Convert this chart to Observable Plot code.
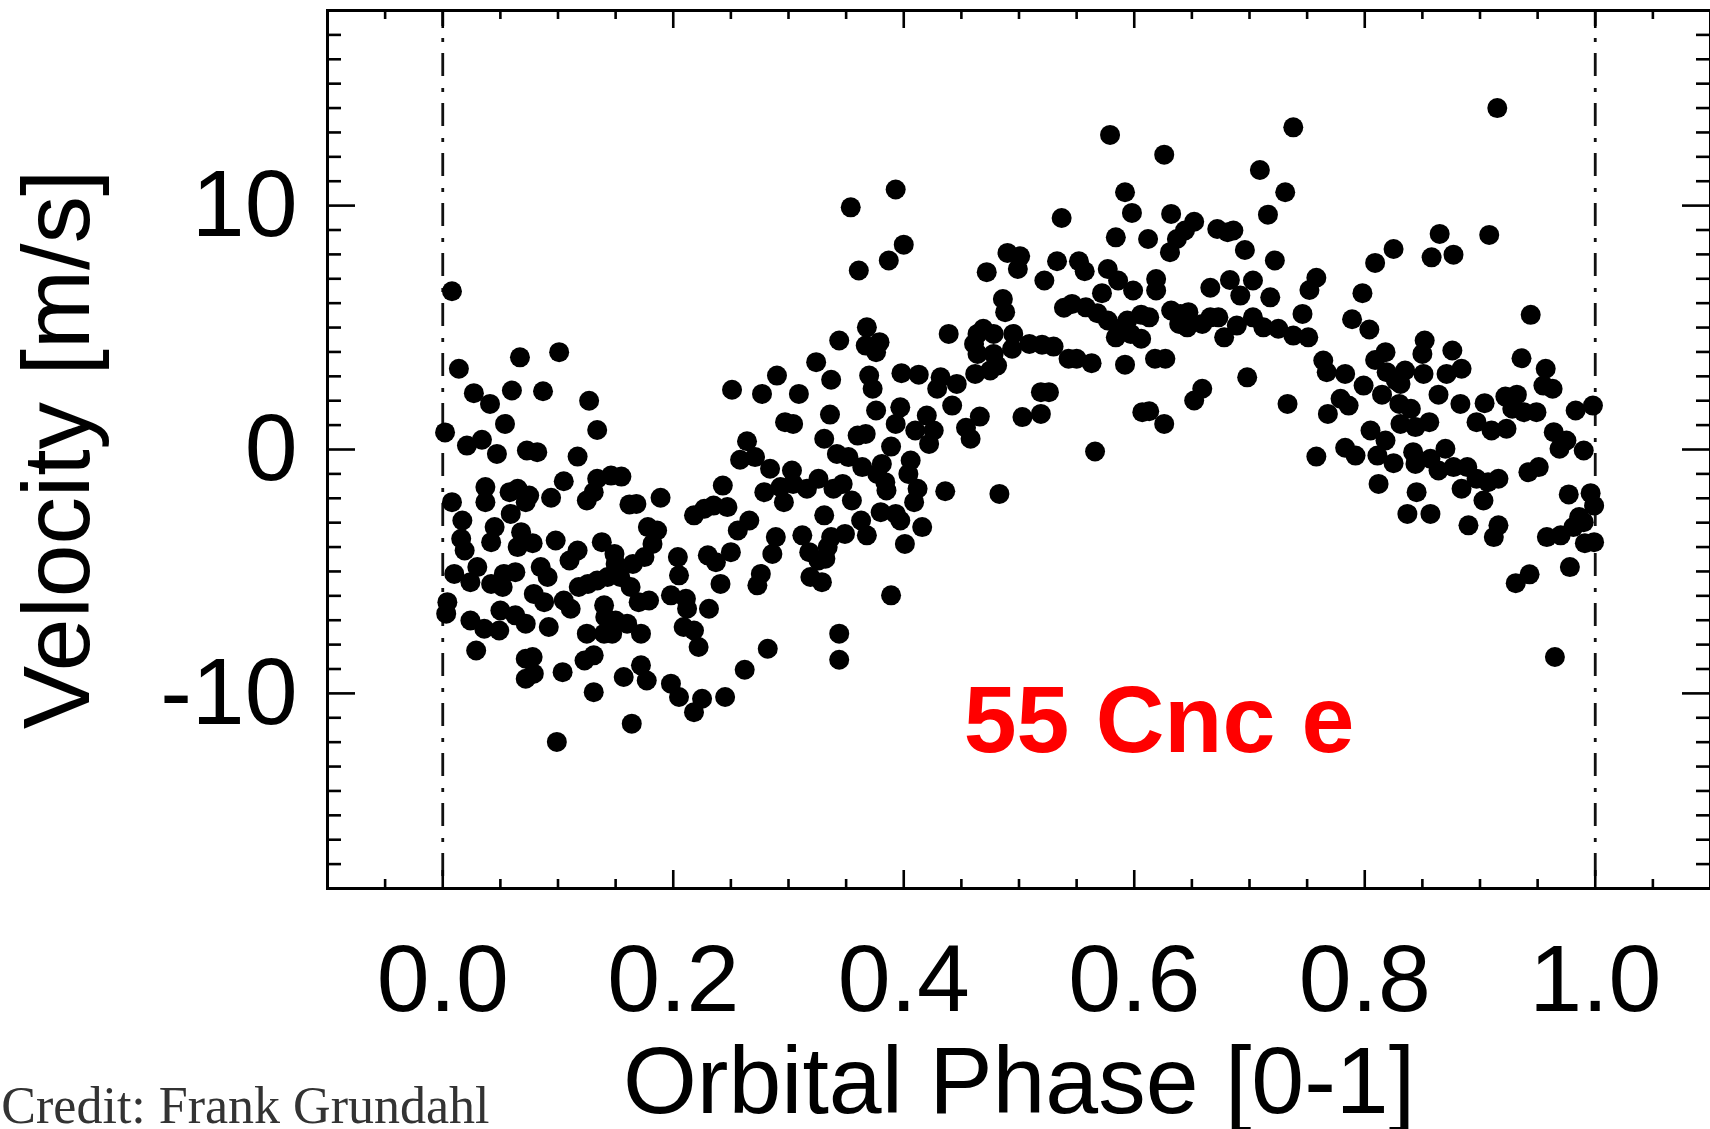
<!DOCTYPE html>
<html>
<head>
<meta charset="utf-8">
<script src="https://cdn.jsdelivr.net/npm/d3@7"></script>
<script src="https://cdn.jsdelivr.net/npm/@observablehq/plot@0.6"></script>
<style>
html,body{margin:0;padding:0;background:#fff;}
#chart svg{display:block;}
</style>
</head>
<body>
<div id="chart"></div>
<script>
// ---- Data: orbital phase [0-1] and radial velocity [m/s] ----
// phase 0.00 - 0.25
const phaseA = [
0.008,0.014,0.067,0.101,0.027,0.041,0.060,0.087,0.127,0.002,
0.054,0.134,0.021,0.034,0.047,0.073,0.082,0.117,0.105,0.134,
0.146,0.155,0.037,0.058,0.065,0.075,0.094,0.125,0.131,0.162,
0.168,0.189,0.008,0.037,0.059,0.072,0.017,0.045,0.068,0.042,
0.065,0.078,0.016,0.019,0.098,0.117,0.110,0.138,0.149,0.150,
0.178,0.186,0.182,0.175,0.165,0.204,0.205,0.230,0.237,0.241,
0.243,0.218,0.227,0.235,0.247,0.250,0.010,0.024,0.030,0.042,
0.053,0.063,0.085,0.091,0.079,0.088,0.105,0.111,0.118,0.126,
0.134,0.143,0.154,0.163,0.170,0.179,0.140,0.141,0.150,0.160,
0.172,0.125,0.140,0.147,0.004,0.003,0.024,0.036,0.049,0.050,
0.052,0.063,0.072,0.092,0.198,0.211,0.212,0.231,0.209,0.218,
0.222,0.029,0.072,0.078,0.072,0.079,0.104,0.123,0.131,0.157,
0.172,0.177,0.198,0.205,0.218,0.225,0.245,0.131,0.164,0.099];
const velocityA = [
6.49,3.31,3.78,3.99,2.31,1.87,2.42,2.39,2.00,0.70,
1.05,0.80,0.16,0.40,-0.18,-0.04,-0.11,-0.29,-1.30,-1.20,
-1.07,-1.11,-1.54,-1.75,-1.61,-1.89,-1.98,-2.09,-1.75,-2.25,
-2.23,-1.98,-2.16,-2.16,-2.64,-2.16,-2.91,-3.18,-3.39,-3.80,
-4.00,-3.84,-3.66,-4.14,-3.73,-4.14,-4.55,-3.80,-4.28,-4.69,
-3.18,-3.32,-3.87,-4.41,-4.69,-4.41,-5.16,-4.34,-4.62,-5.51,
-1.48,-2.70,-2.43,-2.30,-2.36,-4.21,-5.10,-5.44,-4.82,-5.51,
-5.10,-5.03,-4.82,-5.23,-5.92,-6.26,-6.19,-6.53,-5.64,-5.51,
-5.37,-5.23,-5.23,-5.64,-6.26,-6.19,-6.39,-6.87,-7.01,-7.14,
-7.55,-7.55,-7.55,-7.55,-6.26,-6.73,-7.01,-7.35,-7.42,-6.60,
-5.64,-6.80,-7.14,-7.28,-5.98,-6.12,-6.53,-6.53,-7.28,-7.42,
-8.10,-8.24,-8.58,-8.51,-9.40,-9.19,-9.13,-8.65,-8.44,-9.33,
-8.85,-9.47,-9.60,-10.15,-10.77,-10.22,-10.15,-9.95,-11.24,-11.99];

// phase 0.25 - 0.51
const phaseB = [
0.393,0.354,0.400,0.387,0.361,0.490,0.501,0.499,0.472,0.486,
0.488,0.368,0.344,0.367,0.379,0.376,0.439,0.464,0.469,0.478,
0.461,0.464,0.478,0.495,0.494,0.509,0.481,0.475,0.462,0.324,
0.290,0.337,0.370,0.373,0.398,0.413,0.432,0.429,0.446,0.251,
0.277,0.309,0.336,0.376,0.397,0.420,0.442,0.466,0.503,0.297,
0.304,0.393,0.454,0.410,0.426,
0.264,0.331,0.360,0.367,0.389,0.422,0.458,0.258,0.271,0.284,
0.342,0.352,0.364,0.381,0.406,0.404,0.303,0.279,0.293,0.304,
0.316,0.326,0.339,0.347,0.296,0.355,0.377,0.384,0.385,0.412,
0.409,0.436,0.483,0.266,0.256,0.331,0.380,0.393,0.397,0.416,
0.363,0.349,0.368,0.401,0.289,0.286,0.312,0.318,0.334,0.337,
0.332,0.326,0.276,0.273,0.319,0.329,0.389,0.344,0.344,0.282,
0.262];
const velocityB = [
10.66,9.93,8.40,7.75,7.34,8.06,7.92,7.40,7.27,6.17,
5.63,5.01,4.47,4.26,4.40,3.99,4.74,4.74,4.95,4.74,
4.33,3.92,3.92,4.74,4.13,4.33,3.44,3.24,3.10,3.58,
3.03,2.86,3.03,2.49,3.13,3.07,2.96,2.49,2.69,2.45,
2.28,2.28,1.43,1.60,1.73,1.39,1.80,1.35,1.33,1.12,
1.05,1.05,0.89,0.78,0.78,
0.34,0.44,0.57,0.64,0.12,0.23,0.44,-0.42,-0.31,-0.79,
-0.18,-0.31,-0.72,-0.59,-0.45,-1.00,-0.86,-1.75,-1.54,-1.41,
-1.61,-1.20,-1.61,-1.41,-2.16,-2.09,-1.00,-1.34,-1.68,-1.61,
-2.16,-1.71,-1.82,-2.91,-3.32,-2.70,-2.57,-2.64,-2.91,-3.18,
-2.91,-3.46,-3.52,-3.87,-3.59,-4.28,-3.52,-4.21,-4.00,-3.59,
-4.48,-4.55,-5.10,-5.57,-5.23,-5.44,-5.98,-7.55,-8.62,-8.17,
-9.03];

// phase 0.51 - 0.77
const phaseC = [
0.579,0.626,0.738,0.709,0.731,0.592,0.598,0.537,0.632,0.652,
0.644,0.637,0.631,0.584,0.612,0.672,0.681,0.686,0.716,0.696,
0.722,0.533,0.552,0.557,0.522,0.577,0.586,0.619,0.619,0.572,
0.599,0.666,0.683,0.692,0.703,0.718,0.758,0.752,0.746,0.539,
0.546,0.558,0.568,0.577,0.587,0.594,0.584,0.597,0.606,0.606,
0.613,0.632,0.640,0.647,0.639,0.646,0.659,0.666,0.673,0.678,
0.689,0.703,0.712,0.725,0.738,0.751,0.520,0.530,0.543,0.550,
0.563,0.592,0.618,0.627,0.764,0.767,0.698,0.519,0.526,0.519,
0.659,0.652,0.733,0.607,0.613,0.626,0.768,0.566,0.758];
const velocityC = [
12.90,12.09,13.21,11.46,10.55,10.55,9.70,9.49,9.66,9.34,
8.98,8.63,8.09,8.70,8.63,9.04,8.91,8.98,9.63,8.18,
7.75,7.72,7.72,7.31,6.93,7.40,6.93,6.99,6.52,6.41,
6.52,6.63,6.95,6.31,6.93,6.24,7.04,6.54,5.56,5.81,
5.97,5.83,5.59,5.29,4.95,5.29,4.60,4.74,4.54,5.53,
5.42,5.70,5.56,5.63,5.15,5.01,5.15,5.42,5.42,4.60,
5.08,5.42,5.01,4.95,4.67,4.60,4.30,4.22,3.72,3.72,
3.54,3.48,3.72,3.72,3.65,3.17,2.96,2.35,2.35,1.46,
2.49,2.01,1.87,1.53,1.57,1.05,1.46,-0.08,-0.29];

// phase 0.77 - 1.00
const phaseD = [
0.915,0.865,0.908,0.825,0.809,0.858,0.877,0.798,0.789,0.804,
0.944,0.852,0.850,0.818,0.809,0.876,0.884,0.936,0.957,0.955,
0.963,0.783,0.799,0.819,0.827,0.835,0.851,0.871,0.831,0.815,
0.864,0.779,0.786,0.830,0.840,0.883,0.904,0.922,0.932,0.928,
0.938,0.949,0.983,0.998,0.831,0.856,0.897,0.805,0.910,0.923,
0.964,0.818,0.844,0.975,0.969,0.990,0.783,0.792,0.811,0.842,
0.844,0.825,0.857,0.870,0.864,0.877,0.889,0.897,0.916,0.907,
0.884,0.903,0.942,0.951,0.812,0.845,0.837,0.857,0.890,0.916,
0.912,0.958,0.970,0.977,0.996,0.999,0.986,0.990,0.981,0.991,
0.999,0.978,0.931,0.943,0.965];
const velocityD = [
14.00,8.84,8.80,8.22,7.65,7.88,7.99,6.41,5.34,4.92,
5.52,4.47,3.92,3.99,3.67,4.06,3.31,3.74,3.31,2.62,
2.49,3.10,2.62,3.17,2.83,3.24,3.10,3.10,2.69,2.25,
2.25,2.08,1.80,1.87,1.67,1.87,1.90,2.17,2.25,1.67,
1.53,1.53,1.60,1.80,1.05,1.12,1.12,0.78,0.78,0.85,
0.71,0.37,0.92,0.37,0.03,-0.04,0.07,-0.25,-0.25,-0.11,
-0.59,-0.56,-0.38,0.03,-0.86,-0.72,-0.72,-1.20,-1.20,-1.34,
-1.61,-2.09,-0.93,-0.72,-1.41,-1.75,-2.64,-2.64,-3.11,-3.11,
-3.59,-3.59,-3.52,-1.84,-1.79,-2.30,-2.77,-2.98,-3.18,-3.84,
-3.80,-4.82,-5.48,-5.12,-8.51];

// ---- Axes, ticks, labels ----
const xDomain = [-0.1, 1.1];
const yDomain = [-18, 18];
const xTickLabels = [0.0, 0.2, 0.4, 0.6, 0.8, 1.0];
const xMinorTicks = [-0.05,0.05,0.1,0.15,0.25,0.3,0.35,0.45,0.5,0.55,0.65,0.7,0.75,0.85,0.9,0.95,1.05];
const yTickLabels = [-10, 0, 10];
const yMinorTicks = [-17,-16,-15,-14,-13,-12,-11,-9,-8,-7,-6,-5,-4,-3,-2,-1,1,2,3,4,5,6,7,8,9,11,12,13,14,15,16,17];
const phaseMarkers = [0, 1];
const xLabel = "Orbital Phase [0-1]";
const yLabel = "Velocity [m/s]";
const credit = "Credit: Frank Grundahl";
const annotation = [{text: "55 Cnc e", phase: 0.452, velocity: -12.42}];

// ---- Build table ----
const groups = [[phaseA, velocityA], [phaseB, velocityB], [phaseC, velocityC], [phaseD, velocityD]];
const data = [];
groups.forEach(([p, v], g) => {
  if (p.length !== v.length) console.error("length mismatch in group", g, p.length, v.length);
  p.forEach((ph, i) => data.push({phase: ph, velocity: v[i]}));
});

const W = 1710, H = 1129;
const mL = 327, mR = 0, mT = 10, mB = 241;
const fw = W - mL - mR, fh = H - mT - mB;
const sans = "'Liberation Sans', Arial, Helvetica, sans-serif";
const serif = "'Liberation Serif', 'Times New Roman', Times, serif";
const big = 95;
const tw = 2.6;

const chart = Plot.plot({
  width: W, height: H,
  marginLeft: mL, marginRight: mR, marginTop: mT, marginBottom: mB,
  style: {fontFamily: sans, background: "#fff", color: "#000", overflow: "visible"},
  x: {domain: xDomain},
  y: {domain: yDomain},
  marks: [
    Plot.ruleX(phaseMarkers, {x: d => d, stroke: "#111", strokeWidth: 2.8, strokeDasharray: "23,12,4,11", strokeDashoffset: 7}),
    Plot.dot(data, {x: "phase", y: "velocity", r: 10, fill: "#000", stroke: "none"}),
    Plot.text(annotation, {x: "phase", y: "velocity", text: "text", textAnchor: "start", lineAnchor: "bottom",
      fontSize: big, fontWeight: "bold", fill: "#ff0000", fontFamily: sans}),
    // ticks (inward, all four sides)
    Plot.tickX(xTickLabels, {x: d => d, insetTop: fh - 18, stroke: "#000", strokeWidth: tw}),
    Plot.tickX(xTickLabels, {x: d => d, insetBottom: fh - 18, stroke: "#000", strokeWidth: tw}),
    Plot.tickX(xMinorTicks, {x: d => d, insetTop: fh - 9, stroke: "#000", strokeWidth: tw}),
    Plot.tickX(xMinorTicks, {x: d => d, insetBottom: fh - 9, stroke: "#000", strokeWidth: tw}),
    Plot.tickY(yTickLabels, {y: d => d, insetRight: fw - 28, stroke: "#000", strokeWidth: tw}),
    Plot.tickY(yTickLabels, {y: d => d, insetLeft: fw - 28, stroke: "#000", strokeWidth: tw}),
    Plot.tickY(yMinorTicks, {y: d => d, insetRight: fw - 14, stroke: "#000", strokeWidth: tw}),
    Plot.tickY(yMinorTicks, {y: d => d, insetLeft: fw - 14, stroke: "#000", strokeWidth: tw}),
    Plot.frame({stroke: "#000", strokeWidth: 3}),
    Plot.axisX({ticks: xTickLabels, tickSize: 0, tickPadding: 55, fontSize: big, tickFormat: d3.format(".1f"), label: null, fill: "#000"}),
    Plot.axisY({ticks: yTickLabels, tickSize: 0, tickPadding: 30, fontSize: big, tickFormat: d => String(d), label: null, fill: "#000"}),
    Plot.text([xLabel], {text: d => d, frameAnchor: "bottom", dy: 224, textAnchor: "middle", lineAnchor: "bottom", fontSize: big, fill: "#000"}),
    Plot.text([yLabel], {text: d => d, frameAnchor: "left", dx: -239, rotate: -90, textAnchor: "middle", lineAnchor: "bottom", fontSize: big, fill: "#000"}),
    Plot.text([credit], {text: d => d, frameAnchor: "bottom-left", dx: 489 - mL, dy: 1122 - (H - mB), textAnchor: "end", lineAnchor: "bottom",
      fontSize: 52, fontFamily: serif, fill: "#333"})
  ]
});
document.getElementById("chart").appendChild(chart);
</script>
</body>
</html>
